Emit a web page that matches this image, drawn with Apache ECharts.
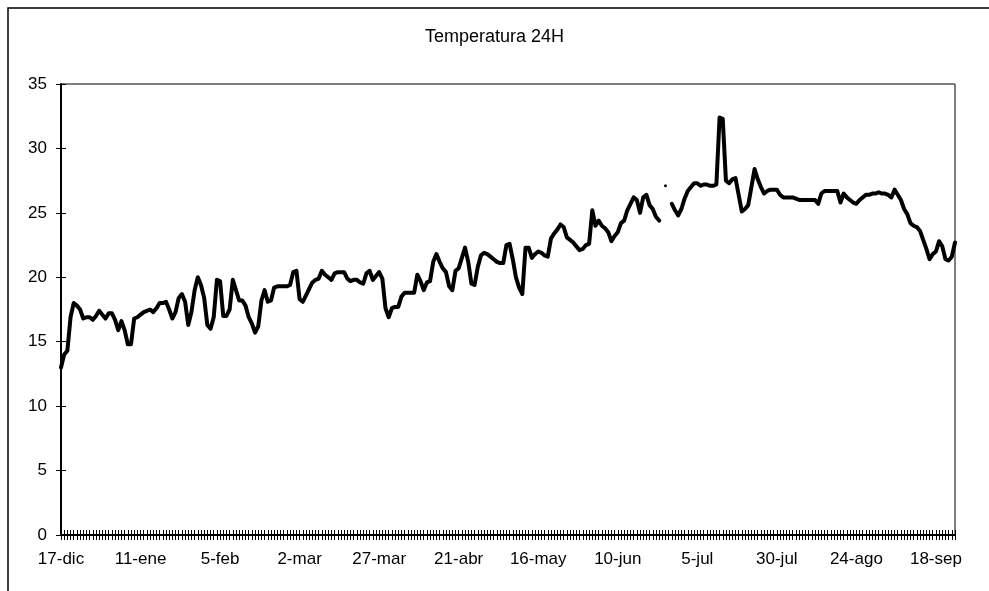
<!DOCTYPE html>
<html>
<head>
<meta charset="utf-8">
<script src="https://cdn.jsdelivr.net/npm/echarts@6/dist/echarts.min.js"></script>
<style>
html,body{margin:0;padding:0;background:#fff;}
#chart{width:989px;height:591px;}
</style>
</head>
<body>
<div id="chart"></div>
<script>
var titleText = "Temperatura 24H";
var startDate = [2006, 11, 17]; // 17-dic
var monthNames = ["ene","feb","mar","abr","may","jun","jul","ago","sep","oct","nov","dic"];
var yTicks = [0, 5, 10, 15, 20, 25, 30, 35];

var temps = [
13.0,14.0,14.3,16.9,18.0,17.8,17.5,16.8,16.9,16.9,
16.7,17.0,17.4,17.1,16.8,17.2,17.2,16.7,15.9,16.6,
15.9,14.8,14.8,16.8,16.9,17.1,17.3,17.4,17.5,17.3,
17.6,18.0,18.0,18.1,17.5,16.8,17.3,18.4,18.7,18.1,
16.3,17.3,19.0,20.0,19.4,18.4,16.3,16.0,16.9,19.8,
19.7,17.0,17.0,17.5,19.8,19.0,18.2,18.2,17.8,16.9,
16.4,15.7,16.2,18.2,19.0,18.1,18.2,19.2,19.3,19.3,
19.3,19.3,19.4,20.4,20.5,18.3,18.1,18.6,19.1,19.6,
19.8,19.9,20.5,20.2,20.0,19.8,20.3,20.4,20.4,20.4,
19.9,19.7,19.8,19.8,19.6,19.5,20.3,20.5,19.8,20.1,
20.4,19.9,17.6,16.9,17.6,17.7,17.7,18.5,18.8,18.8,
18.8,18.8,20.2,19.7,19.0,19.6,19.7,21.2,21.8,21.2,
20.7,20.4,19.3,19.0,20.5,20.7,21.5,22.3,21.2,19.5,
19.4,20.8,21.7,21.9,21.8,21.6,21.4,21.2,21.1,21.1,
22.5,22.6,21.4,20.0,19.2,18.7,22.3,22.3,21.5,21.8,
22.0,21.9,21.7,21.6,23.0,23.4,23.7,24.1,23.9,23.1,
22.9,22.7,22.4,22.1,22.2,22.5,22.6,25.2,24.0,24.4,
24.0,23.8,23.5,22.8,23.2,23.5,24.2,24.4,25.2,25.7,
26.2,26.0,25.0,26.2,26.4,25.6,25.3,24.7,24.4,null,
27.1,null,25.7,25.2,24.8,25.3,26.1,26.7,27.0,27.3,
27.3,27.1,27.2,27.2,27.1,27.1,27.2,32.4,32.3,27.5,
27.3,27.6,27.7,26.4,25.1,25.3,25.6,27.0,28.4,27.6,
27.0,26.5,26.7,26.8,26.8,26.8,26.4,26.2,26.2,26.2,
26.2,26.1,26.0,26.0,26.0,26.0,26.0,26.0,25.7,26.5,
26.7,26.7,26.7,26.7,26.7,25.8,26.5,26.2,26.0,25.8,
25.7,26.0,26.2,26.4,26.4,26.5,26.5,26.6,26.5,26.5,
26.4,26.2,26.8,26.4,26.0,25.3,24.9,24.2,24.0,23.9,
23.6,22.9,22.2,21.4,21.8,22.0,22.8,22.4,21.4,21.3,
21.6,22.7
];

var categories = [];
(function(){
  var t0 = Date.UTC(startDate[0], startDate[1], startDate[2]);
  for (var i = 0; i < temps.length; i++) {
    var d = new Date(t0 + i * 86400000);
    categories.push(d.getUTCDate() + "-" + monthNames[d.getUTCMonth()]);
  }
})();

// isolated point (neighbours are null) gets a small dot
var seriesData = temps.map(function(v, i){
  var prevNull = (i === 0) || temps[i-1] === null;
  var nextNull = (i === temps.length-1) || temps[i+1] === null;
  if (v !== null && prevNull && nextNull) {
    return {value: v, symbol: 'circle', symbolSize: 3, itemStyle: {color: '#000'}};
  }
  return v;
});

var FONT = "'Liberation Sans', Arial, sans-serif";
var chart = echarts.init(document.getElementById('chart'), null, {renderer: 'canvas'});
chart.setOption({
  animation: false,
  backgroundColor: '#fff',
  title: {
    text: titleText, left: 'center', top: 23,
    textStyle: {fontFamily: FONT, fontSize: 18, fontWeight: 'normal', color: '#000'}
  },
  graphic: [{
    type: 'rect', z: -10,
    shape: {x: 8, y: 8, width: 1000, height: 600},
    style: {fill: 'none', stroke: '#000', lineWidth: 1.5}
  }],
  grid: {left: 61, top: 84, right: 34, bottom: 56, show: true, borderColor: '#000', borderWidth: 1, backgroundColor: 'transparent'},
  xAxis: [{
    type: 'category', data: categories, boundaryGap: false,
    axisLine: {show: true, lineStyle: {color: '#000', width: 2}},
    axisTick: {show: true, interval: 0, length: 5, inside: false, lineStyle: {color: '#000', width: 1}},
    axisLabel: {interval: 24, margin: 16, fontFamily: FONT, fontSize: 17, color: '#000'},
    splitLine: {show: false}
  }, {
    type: 'category', data: categories, boundaryGap: false, position: 'bottom',
    axisLine: {show: false},
    axisTick: {show: true, interval: 0, length: 5, inside: true, lineStyle: {color: '#000', width: 1}},
    axisLabel: {show: false},
    splitLine: {show: false}
  }],
  yAxis: [{
    type: 'value', min: yTicks[0], max: yTicks[yTicks.length-1], interval: 5,
    axisLine: {show: true, lineStyle: {color: '#000', width: 2}},
    axisTick: {show: true, length: 5, inside: false, lineStyle: {color: '#000', width: 1}},
    axisLabel: {margin: 14, fontFamily: FONT, fontSize: 17, color: '#000'},
    splitLine: {show: false}
  }, {
    type: 'value', min: yTicks[0], max: yTicks[yTicks.length-1], interval: 5, position: 'left',
    axisLine: {show: false},
    axisTick: {show: true, length: 5, inside: true, lineStyle: {color: '#000', width: 1}},
    axisLabel: {show: false},
    splitLine: {show: false}
  }],
  series: [{
    type: 'line', xAxisIndex: 0, yAxisIndex: 0,
    data: seriesData,
    symbol: 'none', showSymbol: true, showAllSymbol: true,
    connectNulls: false,
    lineStyle: {color: '#000', width: 4, join: 'round', cap: 'round'},
    itemStyle: {color: '#000'}
  }]
});
</script>
</body>
</html>
